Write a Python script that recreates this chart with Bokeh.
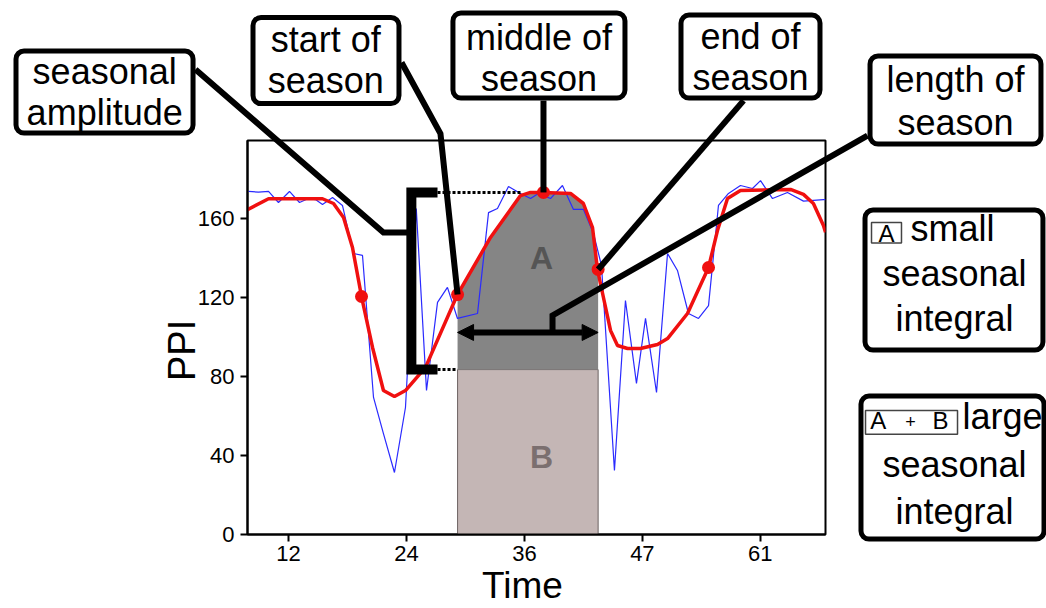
import numpy as np
from bokeh.plotting import figure
from bokeh.models import Range1d, FixedTicker, Arrow, NormalHead
from bokeh.core.properties import value
from bokeh.embed import file_html
from bokeh.resources import INLINE

# ---------------- data ----------------
raw_time = [7.93, 8.95, 9.97, 10.98, 12.1, 13.12, 14.03, 14.75, 15.46, 16.48, 17.49,
            18.61, 19.53, 20.65, 21.66, 22.78, 23.9, 25.0, 26.04, 27.16, 28.17, 29.19,
            31.23, 32.35, 33.26, 34.38, 35.6, 36.62, 37.43, 38.65, 39.87, 40.99, 42.01,
            43.03, 43.84, 45.16, 46.28, 47.4, 48.32, 49.44, 50.56, 51.57, 52.69, 53.71,
            54.73, 55.74, 56.76, 57.98, 59.2, 60.02, 61.24, 62.76, 64.39, 66.42, 66.63]
raw_ppi = [173.7, 173.4, 173.7, 168.1, 173.7, 168.1, 170.1, 169.6, 167.1, 170.6, 166.6,
           142.3, 141.3, 69.4, 51.1, 31.4, 64.3, 165.0, 72.9, 117.5, 125.1, 109.4,
           111.9, 163.0, 165.1, 176.2, 172.7, 170.1, 172.7, 170.1, 176.7, 164.6, 164.6,
           152.4, 136.2, 32.4, 118.5, 76.5, 109.4, 71.9, 142.3, 133.7, 111.9, 109.4,
           115.9, 166.6, 172.7, 176.7, 175.2, 179.2, 170.1, 173.2, 168.8, 169.6, 169.6]

fit_time = [7.83, 9.97, 15.46, 16.58, 17.6, 18.51, 19.43, 20.55, 21.66, 22.78, 23.9, 25.94,
            29.19, 32.55, 35.6, 36.62, 37.94, 40.69, 42.0, 42.93, 43.43, 44.04, 44.76,
            45.47, 46.49, 47.8, 49.54, 50.56, 52.59, 54.73, 55.64, 56.66, 57.98, 63.07,
            64.39, 65.4, 66.42, 66.63]
fit_ppi = [164.5, 170.0, 170.0, 167.6, 160.5, 145.3, 120.5, 94.7, 72.9, 69.9, 72.9, 84.6,
           121.5, 150.4, 171.6, 173.2, 173.2, 172.7, 167.6, 155.4, 134.2, 120.0, 103.3,
           95.7, 94.2, 94.2, 96.2, 99.2, 111.9, 135.2, 153.9, 170.1, 174.2, 174.7,
           172.2, 167.6, 156.5, 153.0]

pheno_time = [19.43, 29.2, 37.94, 43.5, 54.73]
pheno_ppi = [120.5, 121.5, 173.2, 134.2, 135.2]

season_start = 29.2
season_end = 43.5
season_mid = 37.94
base_level = 83.5
peak_level = 173.2

x_tick_pos = [12, 24, 36, 48, 60]
x_tick_labels = ["12", "24", "36", "47", "61"]
y_tick_pos = [0, 40, 80, 120, 160]

# ---------------- annotation layout (data units) ----------------
box_left = [-15.72, 8.39, 28.73, 51.93, 71.16, 70.65, 70.24]
box_right = [2.29, 23.24, 46.23, 66.07, 88.55, 88.75, 88.86]
box_top = [244.8, 261.8, 264.1, 263.0, 242.3, 164.3, 70.1]
box_bottom = [203.3, 218.2, 221.0, 221.0, 197.7, 93.4, -2.3]

label_text = ["seasonal", "amplitude", "start of", "season", "middle of", "season",
              "end of", "season", "length of", "season",
              "seasonal", "integral", "seasonal", "integral"]
label_x = [-6.7, -6.7, 15.8, 15.8, 37.48, 37.48, 59.0, 59.0, 79.85, 79.85,
           79.75, 79.75, 79.75, 79.75]
label_y = [234.3, 213.6, 250.6, 229.8, 251.6, 230.8, 252.1, 231.3, 230.3, 208.5,
           132.1, 109.3, 35.4, 11.6]

FONT = "Liberation Sans, Arial, sans-serif"

p = figure(width=1046, height=608,
           x_range=Range1d(7.83, 66.63), y_range=Range1d(0, 199.5),
           output_backend="svg", toolbar_location=None,
           min_border_left=247, min_border_right=221,
           min_border_top=140, min_border_bottom=74)
p.background_fill_color = "white"
p.border_fill_color = "white"
p.outline_line_color = "black"
p.outline_line_width = 2
p.grid.visible = False

# axes
p.xaxis.ticker = FixedTicker(ticks=x_tick_pos)
p.xaxis.major_label_overrides = {t: l for t, l in zip(x_tick_pos, x_tick_labels)}
p.yaxis.ticker = FixedTicker(ticks=y_tick_pos)
for ax in (p.xaxis, p.yaxis):
    ax.axis_line_width = 2
    ax.axis_line_color = "black"
    ax.major_tick_line_width = 2
    ax.major_tick_line_color = "black"
    ax.major_tick_out = 7
    ax.major_tick_in = 0
    ax.minor_tick_line_color = None
    ax.major_label_text_font = FONT
    ax.major_label_text_font_size = "22px"
    ax.major_label_text_color = "black"
p.xaxis.major_label_standoff = 4
p.yaxis.major_label_standoff = 6

# axis titles
p.text(x=[35.8], y=[-25.8], text=["Time"], text_font=value(FONT),
       text_font_size="37px", text_align="center", text_baseline="alphabetic",
       text_color="black", level="overlay")
p.text(x=[1.19], y=[93.2], text=["PPI"], text_font=value(FONT), angle=np.pi / 2,
       text_font_size="38px", text_align="center", text_baseline="alphabetic",
       text_color="black", level="overlay")

# seasonal integral regions
ft = np.array(fit_time)
fp = np.array(fit_ppi)
inside = (ft > season_start) & (ft < season_end)
a_x = [season_start, season_start] + list(ft[inside]) + [season_end, season_end]
a_y = ([base_level, float(np.interp(season_start, ft, fp))] + list(fp[inside]) +
       [float(np.interp(season_end, ft, fp)), base_level])
p.quad(left=[season_start], right=[season_end], bottom=[0], top=[base_level],
       fill_color="#c4b6b5", line_color="#6d6464", line_width=1)
p.patch(a_x, a_y, fill_color="#858585", line_color=None)
p.text(x=[season_mid - 0.2], y=[139.9], text=["A"], text_font=value(FONT),
       text_font_size="32px", text_font_style="bold", text_color="#555555",
       text_align="center", text_baseline="alphabetic")
p.text(x=[season_mid - 0.2], y=[39.1], text=["B"], text_font=value(FONT),
       text_font_size="32px", text_font_style="bold", text_color="#7b6f6f",
       text_align="center", text_baseline="alphabetic")

# series
p.line(raw_time, raw_ppi, line_color="#2a2aff", line_width=1.2)
p.line(fit_time, fit_ppi, line_color="#f01010", line_width=3.5)
p.scatter(pheno_time, pheno_ppi, size=13, fill_color="#f01010", line_color=None)

# amplitude bracket and dotted guides
p.line([27.16, 35.6], [peak_level, peak_level], line_color="black", line_width=3,
       line_dash="3 2", level="overlay")
p.line([27.16, season_start], [base_level, base_level], line_color="black",
       line_width=3, line_dash="3 2", level="overlay")
p.line([27.16, 24.5, 24.5, 27.16], [peak_level, peak_level, base_level, base_level],
       line_color="black", line_width=10, line_join="miter", level="overlay")

# leader lines
leaders_x = [[2.54, 21.66, 24.5], [23.5, 27.46, season_start], [season_mid, season_mid],
             [58.29, season_end], [70.9, 38.86, 38.86]]
leaders_y = [[235.4, 152.9, 152.9], [239.0, 203.0, 121.5], [219.7, peak_level],
             [219.7, 134.2], [202.0, 110.9, 102.3]]
p.multi_line(leaders_x, leaders_y, line_color="black", line_width=6,
             line_join="miter", level="overlay")

p.add_layout(Arrow(x_start=season_start, y_start=102.3, x_end=season_end, y_end=102.3,
                   line_width=6, line_color="black",
                   start=NormalHead(size=16, fill_color="black", line_color="black"),
                   end=NormalHead(size=16, fill_color="black", line_color="black")))

# annotation boxes
p.quad(left=box_left, right=box_right, top=box_top, bottom=box_bottom,
       fill_color="white", line_color="black", line_width=5, border_radius=8,
       level="overlay")
p.text(x=label_x, y=label_y, text=label_text, text_font=value(FONT),
       text_font_size="36px", text_align="center", text_baseline="alphabetic",
       text_color="black", level="overlay")

# boxed letters in the integral legends
p.quad(left=[71.31, 70.7], right=[74.36, 80.06], top=[158.0, 62.8], bottom=[147.6, 50.7],
       fill_color=None, line_color="#444444", line_width=1.5, level="overlay")
p.text(x=[72.83, 72.0, 78.33], y=[152.6, 57.5, 57.5], text=["A", "A", "B"],
       text_font=value(FONT), text_font_size="24px", text_align="center",
       text_baseline="alphabetic", text_color="black", level="overlay")
p.text(x=[75.27], y=[57.4], text=["+"], text_font=value(FONT), text_font_size="18px",
       text_align="center", text_baseline="alphabetic", text_color="black",
       level="overlay")
p.text(x=[75.28, 80.56], y=[154.9, 59.7], text=["small", "large"], text_font=value(FONT),
       text_font_size="36px", text_align="left", text_baseline="alphabetic",
       text_color="black", level="overlay")

open("out.html", "w").write(file_html(p, INLINE))
